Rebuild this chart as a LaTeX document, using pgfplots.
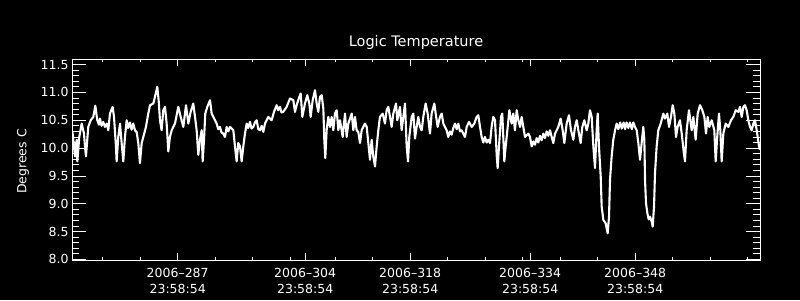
\documentclass[border=0pt]{standalone}
\usepackage{pgfplots}
\pgfplotsset{compat=1.18}
\usepackage{fontspec}
\setmainfont{DejaVu Sans}
\begin{document}
\begin{tikzpicture}[x=1pt,y=1pt]
\fill[black] (0,0) rectangle (800,300);
\useasboundingbox (0,0) rectangle (800,300);
% y axis, title, y label
\begin{axis}[
  at={(72pt,40pt)}, anchor=south west, scale only axis,
  width=688pt, height=201pt,
  xmin=272.91, xmax=364.64, ymin=7.99, ymax=11.60,
  axis line style={white, line width=0.8pt},
  xtick=\empty,
  ytick={8,8.5,9,9.5,10,10.5,11,11.5}, minor y tick num=4,
  ytick pos=both, tick align=inside,
  major tick length=14pt, minor tick length=7pt,
  tick style={white, line width=0.8pt},
  yticklabel style={text=white, font=\fontsize{12.5}{14}\selectfont,
    /pgf/number format/.cd, fixed, fixed zerofill, precision=1, assume math mode=true},
  title={Logic Temperature},
  title style={text=white, font=\fontsize{14.5}{16}\selectfont, at={(axis description cs:0.5,1)}, anchor=base, yshift=6pt},
  ylabel={Degrees C},
  ylabel style={text=white, font=\fontsize{12.5}{14}\selectfont, at={(axis description cs:-0.0712,0.49)}, anchor=center},
]
\end{axis}
% x axis and data
\begin{axis}[
  at={(72pt,40pt)}, anchor=south west, scale only axis,
  width=688pt, height=201pt,
  xmin=272.91, xmax=364.64, ymin=7.99, ymax=11.60,
  axis line style={white, line width=0.8pt},
  ytick=\empty,
  xtick={287,304,318,334,348},
  xticklabels={{2006–287\\23:58:54},{2006–304\\23:58:54},{2006–318\\23:58:54},{2006–334\\23:58:54},{2006–348\\23:58:54}},
  minor xtick={277,282,292,297,302,308,313,323,328,333,338,343,353,358,363},
  xtick pos=both, tick align=inside,
  major tick length=7pt, minor tick length=3.5pt,
  tick style={white, line width=0.8pt},
  xticklabel style={text=white, align=center, font=\fontsize{12.5}{16}\selectfont, yshift=-7pt, inner sep=1pt},
  clip=true,
]
\addplot[white, line width=2.1pt, line join=round] coordinates {
(272.91,10.30) (273.00,10.26) (273.31,9.85) (273.53,10.15) (273.62,9.76) (273.88,10.20)
(274.20,10.44) (274.51,10.26) (274.64,10.03) (274.77,9.85) (275.08,10.38) (275.40,10.50)
(275.75,10.56) (276.02,10.76) (276.28,10.50) (276.50,10.42) (276.64,10.53) (276.85,10.40) (277.08,10.47) (277.30,10.38) (277.53,10.44)
(277.75,10.32) (277.97,10.62) (278.33,10.74) (278.51,10.56) (278.77,10.03) (278.86,9.76)
(279.08,10.20) (279.31,10.44) (279.53,10.09) (279.75,9.76) (279.97,10.20) (280.20,10.50)
(280.40,10.36) (280.64,10.46) (280.85,10.33) (281.08,10.44) (281.30,10.32) (281.53,10.29) (281.75,10.09) (281.97,9.73) (282.20,10.09)
(282.42,10.20) (282.77,10.38) (283.08,10.62) (283.31,10.77) (283.75,10.80) (283.97,10.92)
(284.28,11.10) (284.46,10.86) (284.64,10.50) (284.86,10.32) (285.08,10.68) (285.31,10.74)
(285.53,10.44) (285.75,9.94) (285.97,10.20) (286.20,10.32) (286.64,10.44) (287.08,10.74)
(287.40,10.56) (287.75,10.38) (288.11,10.77) (288.42,10.44) (288.73,10.65) (289.08,10.80)
(289.31,10.56) (289.53,10.32) (289.75,9.88) (289.97,10.15) (290.20,10.32) (290.33,9.76)
(290.51,10.15) (290.68,10.62) (290.95,10.74) (291.31,10.86) (291.53,10.62) (291.75,10.56)
(292.20,10.44) (292.40,10.34) (292.64,10.38) (292.85,10.28) (293.08,10.26) (293.31,10.20) (293.53,10.38) (293.75,10.30) (293.97,10.38)
(294.42,10.32) (294.64,10.03) (294.86,9.76) (295.08,10.09) (295.31,10.03) (295.53,9.76)
(295.75,10.03) (295.97,10.26) (296.20,10.44) (296.40,10.36) (296.64,10.47) (296.85,10.35) (297.08,10.38) (297.30,10.46) (297.53,10.50)
(297.75,10.34) (297.97,10.32) (298.20,10.40) (298.42,10.29) (298.64,10.44) (299.08,10.56) (299.53,10.50) (299.84,10.65)
(300.20,10.77) (300.40,10.68) (300.64,10.74) (300.85,10.64) (301.08,10.65) (301.53,10.74) (301.97,10.89) (302.42,10.86)
(302.64,10.65) (302.86,10.77) (303.22,10.92) (303.40,10.98) (303.62,10.56) (303.97,10.80)
(304.28,10.95) (304.55,10.80) (304.73,10.56) (305.00,10.86) (305.31,11.04) (305.53,10.80)
(305.75,10.65) (305.97,10.92) (306.20,10.95) (306.42,10.71) (306.55,10.15) (306.68,9.82)
(306.86,10.32) (307.08,10.56) (307.31,10.38) (307.53,10.56) (307.75,10.32) (307.97,10.62)
(308.20,10.68) (308.42,10.32) (308.64,10.50) (309.00,10.20) (309.31,10.62) (309.53,10.20)
(309.75,10.44) (310.20,10.62) (310.42,10.32) (310.64,10.56) (310.86,10.32) (311.08,10.29)
(311.31,10.09) (311.53,10.32) (311.75,10.38) (311.97,10.44) (312.20,10.38) (312.42,10.09)
(312.64,9.79) (312.86,10.15) (313.08,9.85) (313.31,9.67) (313.53,10.03) (313.75,10.32)
(313.97,10.56) (314.33,10.62) (314.64,10.44) (314.86,10.68) (315.08,10.74) (315.31,10.56)
(315.53,10.38) (315.75,10.62) (316.11,10.80) (316.28,10.50) (316.64,10.74) (316.86,10.32)
(317.31,10.80) (317.53,10.03) (317.71,9.76) (317.88,10.20) (318.20,10.56) (318.42,10.62)
(318.64,10.17) (318.86,10.38) (319.08,10.56) (319.31,10.38) (319.53,10.32) (319.75,10.56)
(320.06,10.80) (320.33,10.62) (320.64,10.26) (320.86,10.62) (321.22,10.80) (321.40,10.62)
(321.66,10.38) (321.97,10.56) (322.20,10.62) (322.42,10.44) (322.86,10.32) (323.08,10.20)
(323.30,10.30) (323.53,10.24) (323.75,10.36) (323.97,10.44) (324.20,10.34) (324.42,10.44) (324.64,10.30) (324.86,10.32) (325.31,10.20) (325.53,10.38)
(325.84,10.47) (326.20,10.38) (326.55,10.44) (326.86,10.56) (327.08,10.59) (327.31,10.38)
(327.53,10.20) (327.75,10.10) (327.97,10.20) (328.20,10.10) (328.42,10.15) (328.64,10.09) (328.86,10.38) (329.08,10.56)
(329.31,10.50) (329.53,9.88) (329.66,9.64) (329.84,10.03) (330.11,10.56) (330.28,10.62)
(330.55,9.76) (330.73,10.03) (331.00,10.38) (331.22,10.68) (331.53,10.44) (331.75,10.62)
(331.97,10.32) (332.20,10.68) (332.42,10.50) (332.64,10.38) (332.86,10.56) (333.08,10.38)
(333.31,10.20) (333.75,10.26) (333.97,10.20) (334.20,10.03) (334.42,10.12) (334.64,10.06) (334.86,10.18) (335.08,10.10)
(335.30,10.22) (335.53,10.14) (335.75,10.26) (335.97,10.18) (336.20,10.30) (336.42,10.22) (336.64,10.32) (336.86,10.20) (337.08,10.09)
(337.31,10.26) (337.75,10.38) (338.06,10.53) (338.33,10.32) (338.55,10.09) (338.86,10.44)
(339.17,10.59) (339.44,10.32) (339.75,10.15) (339.97,10.38) (340.20,10.50) (340.42,10.32)
(340.73,10.09) (340.95,10.38) (341.22,10.50) (341.53,10.32) (341.75,10.44) (341.97,10.68)
(342.20,10.56) (342.42,10.03) (342.64,9.64) (342.86,10.32) (343.00,10.62) (343.17,10.03)
(343.40,9.49) (343.53,8.95) (343.75,8.71) (344.06,8.65) (344.33,8.47) (344.51,8.77)
(344.64,9.43) (344.86,9.85) (345.08,10.15) (345.31,10.32) (345.53,10.44) (345.75,10.34) (346.00,10.46) (346.20,10.35)
(346.45,10.46) (346.65,10.34) (346.85,10.46) (347.08,10.36) (347.30,10.46) (347.55,10.34) (347.75,10.46) (347.97,10.38) (348.20,10.32) (348.42,10.09) (348.64,9.79) (348.86,10.09)
(349.08,10.38) (349.22,10.15) (349.31,9.43) (349.44,9.01) (349.62,8.83) (349.80,8.72) (349.97,8.77)
(350.20,8.68) (350.33,8.59) (350.51,8.95) (350.64,9.55) (350.86,10.03) (351.08,10.32)
(351.40,10.44) (351.75,10.62) (351.97,10.53) (352.28,10.62) (352.51,10.38) (352.77,10.56)
(353.00,10.77) (353.22,10.62) (353.44,10.20) (353.66,10.38) (353.97,10.50) (354.20,10.26)
(354.46,9.94) (354.64,9.76) (354.86,10.32) (355.17,10.68) (355.53,10.32) (355.75,10.56)
(356.06,10.15) (356.33,10.62) (356.64,10.77) (356.95,10.68) (357.22,10.56) (357.44,10.26)
(357.66,10.56) (357.88,10.38) (358.20,10.50) (358.55,10.32) (358.73,9.76) (358.91,10.15)
(359.17,10.62) (359.35,10.32) (359.53,9.76) (359.75,10.26) (360.06,10.44) (360.42,10.38)
(360.77,10.50) (361.08,10.56) (361.40,10.68) (361.75,10.65) (361.97,10.74) (362.20,10.56)
(362.42,10.74) (362.64,10.77) (362.86,10.68) (363.08,10.50) (363.31,10.38) (363.53,10.32)
(363.75,10.44) (363.97,10.50) (364.20,10.32) (364.33,10.20) (364.51,10.03) (364.64,9.97)
};
\end{axis}
\end{tikzpicture}
\end{document}
